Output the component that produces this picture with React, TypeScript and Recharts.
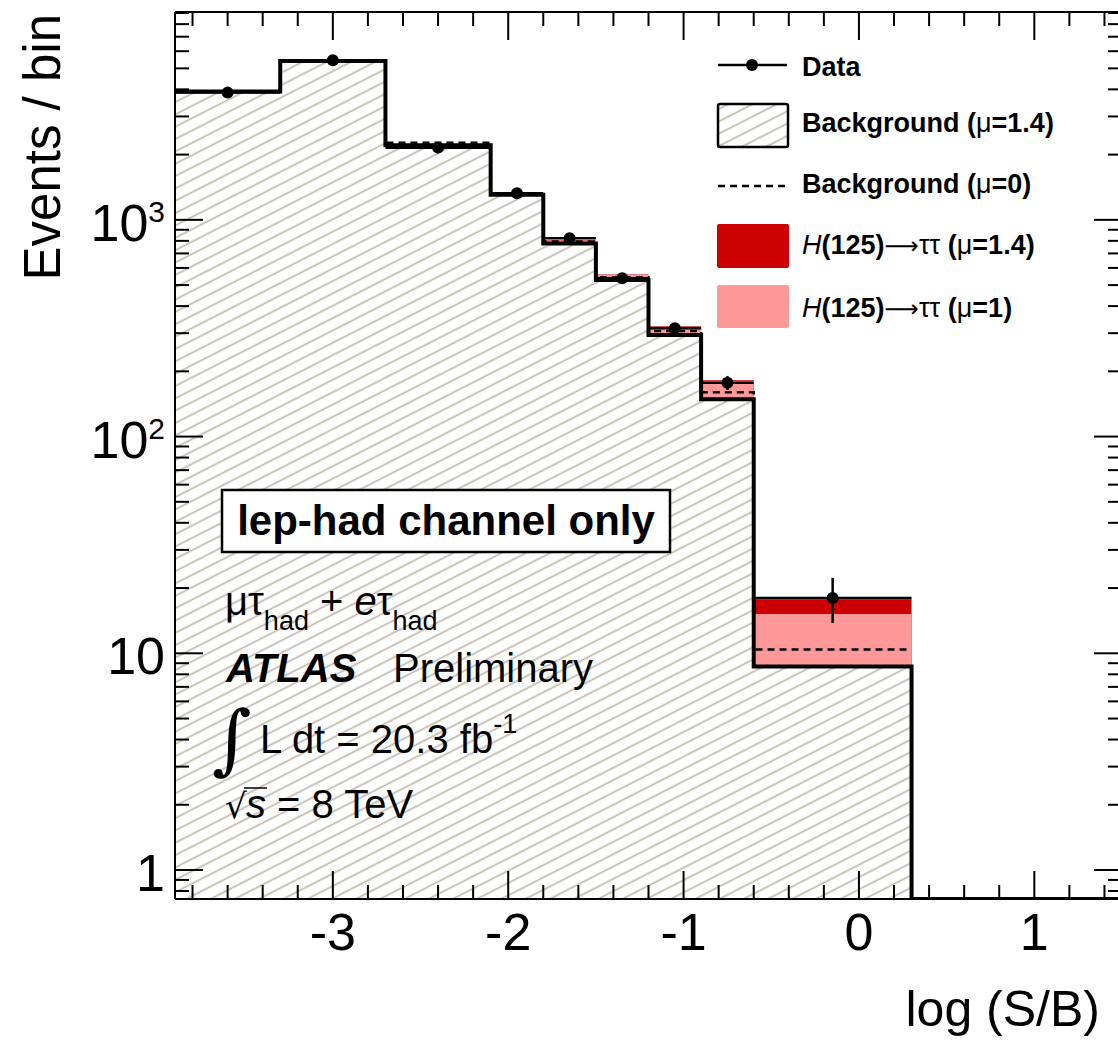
import React from 'react';
import { ComposedChart, Area, Line, Scatter, ErrorBar, XAxis, YAxis, ReferenceLine } from 'recharts';

// variable-width bins in log(S/B); the last one [0.3, 1.5] is empty
const binEdges = [-3.9, -3.3, -2.7, -2.1, -1.8, -1.5, -1.2, -0.9, -0.6, 0.3, 1.5];
const bkgMu14 = [3906, 5412, 2208, 1307, 777, 528, 294, 148.6, 8.68, 0];
const sigMu1Top = [3915, 5420, 2215, 1314, 803, 557, 321, 180.6, 15.2, 0];
const sigMu14Top = [3920, 5425, 2220, 1318, 806, 560, 323, 182, 17.75, 0];
const bkgMu0 = [3900, 5410, 2270, 1310, 795, 543, 307, 160, 10.4];
const dataCounts = [3864, 5452, 2154, 1327, 822, 538, 316, 177, 18];
const dataErrLow = [62, 74, 46, 36, 29, 23, 18, 13, 4.2];
const dataErrHigh = [62, 74, 46, 36, 29, 23, 18, 13, 4.3];

const xMajorTicks = [-3, -2, -1, 0, 1];
const xMinorTicks = [
  -3.8, -3.6, -3.4, -3.2, -2.8, -2.6, -2.4, -2.2, -1.8, -1.6, -1.4, -1.2,
  -0.8, -0.6, -0.4, -0.2, 0.2, 0.4, 0.6, 0.8, 1.2, 1.4,
];
const yMajorTicks = [1, 10, 100, 1000];
const yMinorTicks = [
  0.8, 0.9, 2, 3, 4, 5, 6, 7, 8, 9, 20, 30, 40, 50, 60, 70, 80, 90,
  200, 300, 400, 500, 600, 700, 800, 900, 2000, 3000, 4000, 5000, 6000, 7000, 8000, 9000,
];
const yTickLabels: Record<number, [string, string]> = {
  1: ['1', ''],
  10: ['10', ''],
  100: ['10', '2'],
  1000: ['10', '3'],
};

const X_DOMAIN: [number, number] = [-3.9, 1.5];
const Y_MIN = 0.735;
const Y_MAX = 9100;
const FONT = '"Liberation Sans", Arial, Helvetica, sans-serif';

const W = 1125;
const H = 1041;
const M = { top: 12, right: 3, bottom: 0, left: 0 };
const Y_AXIS_W = 175;
const X_AXIS_H = 142;
const PLOT_TOP = M.top;
const PLOT_RIGHT = W - M.right;
const MAJOR_LEN = 28;
const MINOR_LEN = 14;

const floorLog = (v: number) => Math.max(v, Y_MIN);

const stepRows = binEdges.map((x, i) => {
  const j = Math.min(i, bkgMu14.length - 1);
  return {
    x,
    bkg: floorLog(bkgMu14[j]),
    sig1: floorLog(sigMu1Top[j]),
    sig14: floorLog(sigMu14Top[j]),
    bkg0: i <= bkgMu0.length ? bkgMu0[Math.min(i, bkgMu0.length - 1)] : null,
  };
});

const dataRows = dataCounts.map((y, i) => ({
  x: (binEdges[i] + binEdges[i + 1]) / 2,
  y,
  ex: (binEdges[i + 1] - binEdges[i]) / 2,
  ey: [dataErrLow[i], dataErrHigh[i]],
}));

const allXTicks = [...xMajorTicks, ...xMinorTicks].sort((a, b) => a - b);
const allYTicks = [...yMajorTicks, ...yMinorTicks].sort((a, b) => a - b);

// bottom axis tick: inward mark at bottom and top, label for majors
const XTick = (props: any) => {
  const v = props.payload.value;
  const major = xMajorTicks.includes(v);
  const len = major ? MAJOR_LEN : MINOR_LEN;
  const { x, y } = props;
  return (
    <g>
      <line x1={x} x2={x} y1={y} y2={y - len} stroke="#000" strokeWidth={2} />
      <line x1={x} x2={x} y1={PLOT_TOP} y2={PLOT_TOP + len} stroke="#000" strokeWidth={2} />
      {major && (
        <text x={x} y={y + 51} textAnchor="middle" fontSize={52} fontFamily={FONT} fill="#000">
          {v}
        </text>
      )}
    </g>
  );
};

// left axis tick: inward mark at left and right, label for majors
const YTick = (props: any) => {
  const v = props.payload.value;
  const major = yMajorTicks.includes(v);
  const len = major ? MAJOR_LEN : MINOR_LEN;
  const { x, y } = props;
  const axisX = x + 10;
  const [base, sup] = yTickLabels[v] || ['', ''];
  return (
    <g>
      <line x1={axisX} x2={axisX + len} y1={y} y2={y} stroke="#000" strokeWidth={2} />
      <line x1={PLOT_RIGHT} x2={PLOT_RIGHT - len} y1={y} y2={y} stroke="#000" strokeWidth={2} />
      {major && (
        <text x={x} y={y + 21} textAnchor="end" fontSize={52} fontFamily={FONT} fill="#000">
          {base}
          {sup && (
            <tspan fontSize={30} dy={-19}>
              {sup}
            </tspan>
          )}
        </text>
      )}
    </g>
  );
};

const DataDot = (props: any) => <circle cx={props.cx} cy={props.cy} r={6} fill="#000" />;

const HatchPattern = ({ id }: { id: string }) => (
  <pattern id={id} patternUnits="userSpaceOnUse" width="12" height="11" patternTransform="rotate(-27)">
    <rect width="12" height="11" fill="#fff" />
    <line x1="0" y1="5.5" x2="12" y2="5.5" stroke="#bdb3a9" strokeWidth="1.6" />
  </pattern>
);

export default function App() {
  return (
    <div style={{ position: 'absolute', left: 0, top: 0, width: 1118, height: 1041, overflow: 'hidden', background: '#fff' }}>
      <ComposedChart width={W} height={H} data={stepRows} margin={M}>
        <defs>
          <HatchPattern id="bkgHatch" />
        </defs>

        <Area xAxisId="main" yAxisId="main" type="stepAfter" dataKey="sig14" baseValue={Y_MIN}
          fill="#cc0000" fillOpacity={1} stroke="none" isAnimationActive={false} />
        <Area xAxisId="main" yAxisId="main" type="stepAfter" dataKey="sig1" baseValue={Y_MIN}
          fill="#ff9999" fillOpacity={1} stroke="none" isAnimationActive={false} />
        <Area xAxisId="main" yAxisId="main" type="stepAfter" dataKey="bkg" baseValue={Y_MIN}
          fill="url(#bkgHatch)" fillOpacity={1} stroke="#000" strokeWidth={4} isAnimationActive={false} />
        <Line xAxisId="main" yAxisId="main" type="stepAfter" dataKey="bkg0" stroke="#000" strokeWidth={2.5}
          strokeDasharray="7 5" dot={false} activeDot={false} isAnimationActive={false} />
        <Scatter xAxisId="main" yAxisId="main" data={dataRows} dataKey="y" shape={<DataDot />} isAnimationActive={false}>
          <ErrorBar dataKey="ey" direction="y" width={0} stroke="#000" strokeWidth={2.5} isAnimationActive={false} />
          <ErrorBar dataKey="ex" direction="x" width={0} stroke="#000" strokeWidth={2.5} isAnimationActive={false} />
        </Scatter>

        <XAxis xAxisId="main" dataKey="x" type="number" domain={X_DOMAIN} allowDataOverflow ticks={allXTicks}
          interval={0} height={X_AXIS_H} tickSize={0} tickMargin={0} tickLine={false}
          axisLine={{ stroke: '#000', strokeWidth: 2 }} tick={<XTick />} />
        <YAxis yAxisId="main" type="number" scale="log" domain={[Y_MIN, Y_MAX]} allowDataOverflow ticks={allYTicks}
          interval={0} width={Y_AXIS_W} tickSize={0} tickMargin={10} tickLine={false}
          axisLine={{ stroke: '#000', strokeWidth: 2 }} tick={<YTick />} />

        <ReferenceLine xAxisId="main" yAxisId="main" y={Y_MAX} stroke="#000" strokeWidth={2} />
        <ReferenceLine xAxisId="main" yAxisId="main" x={X_DOMAIN[1]} stroke="#000" strokeWidth={2} />
      </ComposedChart>

      <svg width={1118} height={1041} style={{ position: 'absolute', left: 0, top: 0, pointerEvents: 'none' }}
        fontFamily={FONT} fill="#000">
        <defs>
          <HatchPattern id="legendHatch" />
        </defs>

        <text transform="translate(60,14) rotate(-90)" textAnchor="end" fontSize={51}>Events / bin</text>
        <text x={1100} y={1026} textAnchor="end" fontSize={50}>log (S/B)</text>

        {/* legend */}
        <g fontSize={27} fontWeight="bold">
          <line x1={718} y1={65} x2={787} y2={65} stroke="#000" strokeWidth={2.5} />
          <circle cx={752} cy={65} r={6} />
          <text x={802} y={76}>Data</text>

          <rect x={718} y={104} width={70} height={43} rx={2} fill="url(#legendHatch)" stroke="#000" strokeWidth={2.5} />
          <text x={802} y={132}>
            Background (<tspan fontWeight="normal">μ</tspan>=1.4)
          </text>

          <line x1={718} y1={186} x2={787} y2={186} stroke="#000" strokeWidth={2.5} strokeDasharray="7 5" />
          <text x={802} y={193}>
            Background (<tspan fontWeight="normal">μ</tspan>=0)
          </text>

          <rect x={717} y={224} width={72} height={44} rx={2} fill="#cc0000" />
          <text x={802} y={254}>
            <tspan fontStyle="italic" fontWeight="normal">H</tspan>(125)
            <tspan fontWeight="normal" fontFamily="DejaVu Sans" fontSize={24}>⟶</tspan>
            <tspan fontWeight="normal">ττ</tspan>
            {' ('}<tspan fontWeight="normal">μ</tspan>=1.4)
          </text>

          <rect x={717} y={285} width={72} height={43} rx={2} fill="#ff9999" />
          <text x={802} y={317}>
            <tspan fontStyle="italic" fontWeight="normal">H</tspan>(125)
            <tspan fontWeight="normal" fontFamily="DejaVu Sans" fontSize={24}>⟶</tspan>
            <tspan fontWeight="normal">ττ</tspan>
            {' ('}<tspan fontWeight="normal">μ</tspan>=1)
          </text>
        </g>

        {/* annotations */}
        <rect x={222} y={490} width={448} height={62} fill="#fff" stroke="#000" strokeWidth={2.5} />
        <text x={446} y={535} textAnchor="middle" fontSize={42} fontWeight="bold">lep-had channel only</text>

        <text x={225} y={615} fontSize={40}>
          μτ<tspan fontSize={27} dy={15}>had</tspan>
          <tspan dy={-15}>{' + '}</tspan>
          <tspan fontStyle="italic">e</tspan>τ<tspan fontSize={27} dy={15}>had</tspan>
        </text>

        <text x={226} y={682} fontSize={40}>
          <tspan fontWeight="bold" fontStyle="italic">ATLAS</tspan>
          <tspan x={393}>Preliminary</tspan>
        </text>

        <text x={212} y={765} fontSize={76} fontFamily="DejaVu Serif">∫</text>
        <text x={260} y={753} fontSize={40}>
          L dt = 20.3 fb<tspan fontSize={27} dy={-20}>-1</tspan>
        </text>

        <text x={225} y={818} fontSize={34} fontFamily="DejaVu Sans">√</text>
        <line x1={244} x2={267} y1={788} y2={788} stroke="#000" strokeWidth={1.5} />
        <text x={246} y={818} fontSize={40}>
          <tspan fontStyle="italic">s</tspan> = 8 TeV
        </text>
      </svg>
    </div>
  );
}
